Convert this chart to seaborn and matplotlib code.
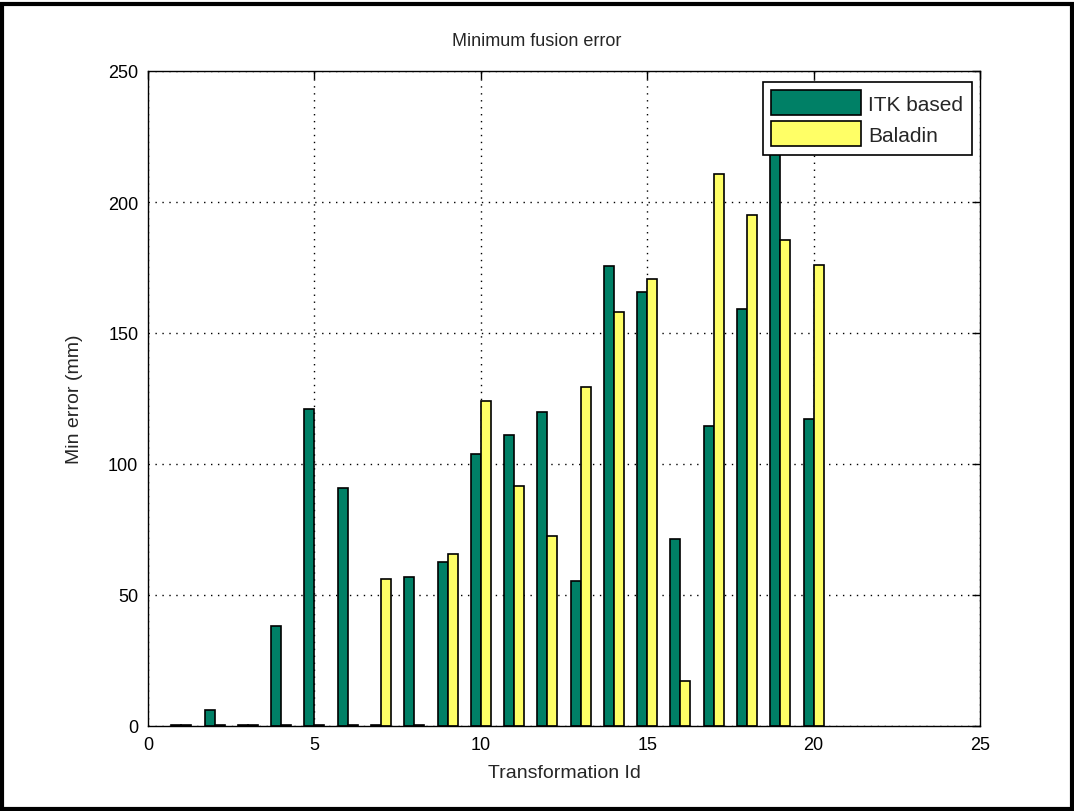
import matplotlib
matplotlib.use("Agg")
import matplotlib.pyplot as plt
import matplotlib.patches as mpatches
import pandas as pd
import seaborn as sns

# Values
transform_ids = list(range(1, 21))
itk_based = [0.5, 6, 0.5, 38, 121, 91, 0.5, 57, 62.5, 104,
             111, 120, 55.5, 175.5, 165.5, 71.5, 114.5, 159, 230, 117]
baladin = [0.5, 0.5, 0.5, 0.5, 0.5, 0.5, 56, 0.5, 65.5, 124,
           91.5, 72.5, 129.5, 158, 170.5, 17, 210.5, 195, 185.5, 176]
series_names = ["ITK based", "Baladin"]
palette = {"ITK based": "#008066", "Baladin": "#FFFF66"}

df = pd.DataFrame({
    "id": transform_ids * 2,
    "error": itk_based + baladin,
    "method": [series_names[0]] * len(transform_ids) + [series_names[1]] * len(transform_ids),
})

sns.set_theme(style="white")
plt.rcParams["font.family"] = ["Liberation Sans", "DejaVu Sans"]

fig = plt.figure(figsize=(10.74, 8.12), dpi=100)
ax = fig.add_axes([148 / 1074, 85 / 812, 832 / 1074, 655 / 812])

sns.barplot(data=df, x="id", y="error", hue="method", hue_order=series_names,
            palette=palette, native_scale=True, width=0.6, errorbar=None,
            edgecolor="black", linewidth=1.2, saturation=1, ax=ax)

ax.set_xlim(0, 25)
ax.set_ylim(0, 250)
ax.set_xticks([0, 5, 10, 15, 20, 25])
ax.set_yticks([0, 50, 100, 150, 200, 250])
ax.set_xticklabels(["0", "5", "10", "15", "20", "25"])
ax.set_yticklabels(["0", "50", "100", "150", "200", "250"])
ax.tick_params(direction="in", top=True, right=True, length=6, width=1,
               colors="black", labelsize=13, pad=7)
ax.grid(True, linestyle=(0, (1, 4)), color="black", linewidth=1)
ax.set_axisbelow(True)
for sp in ax.spines.values():
    sp.set_color("black")
    sp.set_linewidth(1)
    sp.set_visible(True)

# title is centred on the figure, not on the axes
fig.text(0.5, 1 - 41 / 812, "Minimum fusion error", fontsize=13, ha="center", va="center")
ax.set_xlabel("Transformation Id", fontsize=14, labelpad=8)
ax.set_ylabel("Min error (mm)", fontsize=14, labelpad=18)

handles = [mpatches.Patch(facecolor=palette[n], edgecolor="black", linewidth=1.2) for n in series_names]
leg = ax.legend(handles, series_names, loc="upper right", bbox_to_anchor=(0.990, 0.983),
                borderaxespad=0, fontsize=15, frameon=True, fancybox=False, framealpha=1,
                edgecolor="black", handlelength=4.3, handleheight=1.45,
                borderpad=0.4, labelspacing=0.3, handletextpad=0.35)
leg.get_frame().set_linewidth(1.2)
leg.set_zorder(10)

# black frame round the whole figure
fig.patches.append(mpatches.Rectangle((0.002, 0.002), 0.996, 0.992, transform=fig.transFigure,
                                      fill=False, edgecolor="black", linewidth=3))

fig.savefig("out.png", dpi=100, facecolor="white")
